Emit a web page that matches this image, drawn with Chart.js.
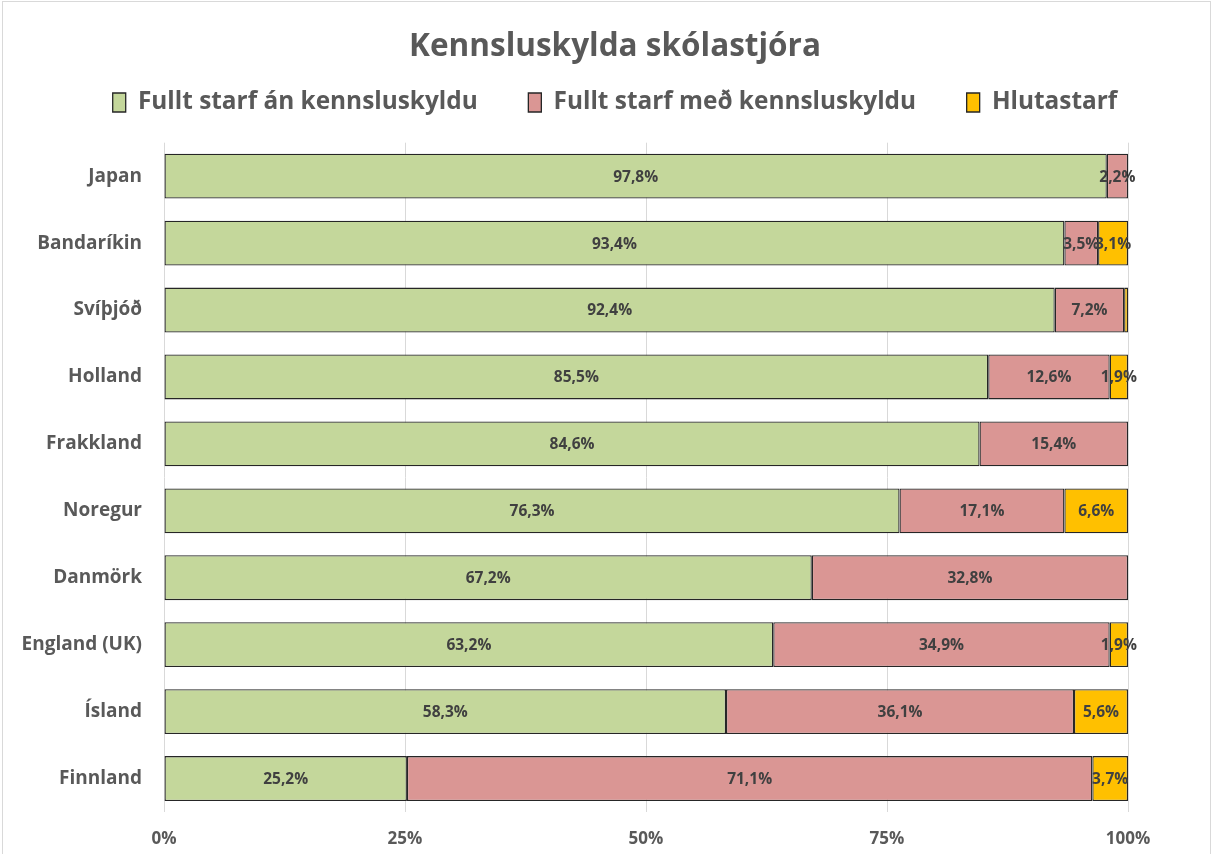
<!DOCTYPE html>
<html lang="is">
<head>
<meta charset="utf-8">
<title>Kennsluskylda skólastjóra</title>
<script src="https://cdn.jsdelivr.net/npm/chart.js@4/dist/chart.umd.min.js"></script>
<style>
  html, body { margin: 0; padding: 0; background: #fff; }
  #wrap { width: 1212px; height: 854px; position: relative; }
</style>
</head>
<body>
<div id="wrap"><canvas id="chart" width="1212" height="854"></canvas></div>
<script>
// data (percent of school principals)
const countries = ['Japan', 'Bandaríkin', 'Svíþjóð', 'Holland', 'Frakkland', 'Noregur', 'Danmörk', 'England (UK)', 'Ísland', 'Finnland'];
const seriesNames = ['Fullt starf án kennsluskyldu', 'Fullt starf með kennsluskyldu', 'Hlutastarf'];
const fullNoTeaching = [97.8, 93.4, 92.4, 85.5, 84.6, 76.3, 67.2, 63.2, 58.3, 25.2];
const fullWithTeaching = [2.2, 3.5, 7.2, 12.6, 15.4, 17.1, 32.8, 34.9, 36.1, 71.1];
const partTime = [0, 3.1, 0.4, 1.9, 0, 6.6, 0, 1.9, 5.6, 3.7];
const xTicks = [0, 25, 50, 75, 100];

const FONT = '"Open Sans", Lato, sans-serif';
const TEXT = '#595959';

// outer chart border like the spreadsheet frame
const frame = {
  id: 'frame',
  beforeDraw(chart) {
    const c = chart.ctx;
    c.save();
    c.fillStyle = '#fff';
    c.fillRect(0, 0, chart.width, chart.height);
    c.strokeStyle = '#d9d9d9';
    c.lineWidth = 1;
    c.strokeRect(2.5, 1.5, chart.width - 4, chart.height + 4);
    c.restore();
  }
};

// value labels centred in each segment (small slivers get none)
const barLabels = {
  id: 'barLabels',
  afterDatasetsDraw(chart) {
    const c = chart.ctx;
    c.save();
    c.font = 'bold 15.5px ' + FONT;
    c.fillStyle = '#404040';
    c.textAlign = 'center';
    c.textBaseline = 'middle';
    chart.data.datasets.forEach((ds, i) => {
      chart.getDatasetMeta(i).data.forEach((bar, j) => {
        const v = ds.data[j];
        if (v < 1) return;
        const txt = v.toFixed(1).replace('.', ',') + '%';
        c.fillText(txt, (bar.x + bar.base) / 2, bar.y + 1);
      });
    });
    c.restore();
  }
};

const mk = (label, data, color) => ({
  label, data,
  backgroundColor: color,
  borderColor: '#262626',
  borderWidth: 1.3,
  borderSkipped: false,
  barPercentage: 0.67,
  categoryPercentage: 1
});

// empty axes only used to reserve space around the plot area
const spacer = (pos, size) => ({
  type: 'linear',
  position: pos,
  display: true,
  grid: { display: false },
  border: { display: false },
  ticks: { display: false },
  afterFit(scale) {
    if (pos === 'top') scale.height = size; else scale.width = size;
  }
});

new Chart(document.getElementById('chart'), {
  type: 'bar',
  data: {
    labels: countries,
    datasets: [
      mk(seriesNames[0], fullNoTeaching, '#c4d79b'),
      mk(seriesNames[1], fullWithTeaching, '#da9694'),
      mk(seriesNames[2], partTime, '#ffc000')
    ]
  },
  options: {
    indexAxis: 'y',
    responsive: false,
    animation: false,
    layout: { padding: { left: 20, right: 2, top: 0, bottom: 0 } },
    plugins: {
      title: {
        display: true,
        text: 'Kennsluskylda skólastjóra',
        color: TEXT,
        font: { family: FONT, size: 31.5, weight: 'bold' },
        padding: { top: 28, bottom: 10.5 }
      },
      legend: {
        labels: {
          color: TEXT,
          font: { family: FONT, size: 24.4, weight: 'bold' },
          boxWidth: 13,
          boxHeight: 19,
          padding: 14,
          generateLabels(chart) {
            const n = chart.data.datasets.length;
            return chart.data.datasets.map((d, i) => ({
              // wider gap between items than between rows
              text: i < n - 1 ? d.label + '\u2003\u2002' : d.label,
              fillStyle: d.backgroundColor,
              strokeStyle: '#262626',
              lineWidth: 1.3,
              fontColor: TEXT,
              datasetIndex: i
            }));
          }
        }
      },
      tooltip: { enabled: false }
    },
    scales: {
      x: {
        stacked: true,
        min: 0, max: 100,
        afterBuildTicks(scale) { scale.ticks = xTicks.map(v => ({ value: v })); },
        afterFit(scale) { scale.height = 42; },
        grid: { color: '#d9d9d9', drawTicks: false },
        border: { display: false },
        ticks: {
          color: TEXT,
          padding: 17,
          font: { family: FONT, size: 17, weight: 'bold' },
          callback: v => v + '%'
        }
      },
      y: {
        stacked: true,
        grid: { display: false },
        border: { display: false },
        afterFit(scale) { scale.width = 144; },
        ticks: {
          color: TEXT,
          padding: 14,
          font: { family: FONT, size: 19, weight: 'bold' }
        }
      },
      xTop: spacer('top', 18),
      yRight: spacer('right', 82)
    }
  },
  plugins: [frame, barLabels]
});
</script>
</body>
</html>
